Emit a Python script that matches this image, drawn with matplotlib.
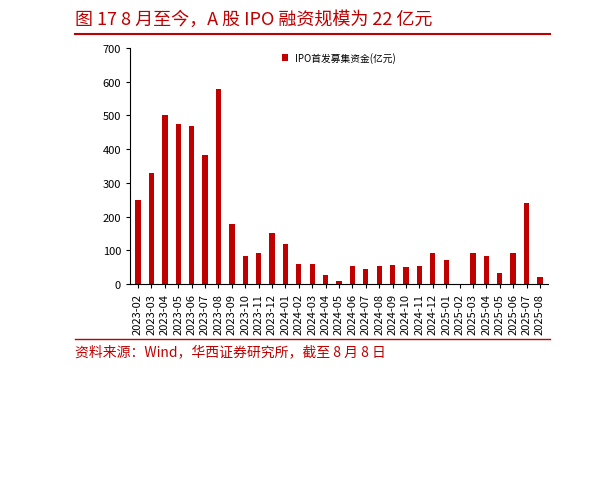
import matplotlib
matplotlib.use("Agg")
import matplotlib.pyplot as plt
plt.rcParams['font.family'] = ['Noto Sans CJK SC', 'DejaVu Sans']

months = ["2023-02","2023-03","2023-04","2023-05","2023-06","2023-07","2023-08","2023-09","2023-10","2023-11","2023-12",
          "2024-01","2024-02","2024-03","2024-04","2024-05","2024-06","2024-07","2024-08","2024-09","2024-10","2024-11","2024-12",
          "2025-01","2025-02","2025-03","2025-04","2025-05","2025-06","2025-07","2025-08"]
values = [249,330,500,475,470,383,577,179,83,93,150,
          118,58,58,26,9,52,44,54,56,49,52,93,
          71,0,91,82,34,91,240,22]

fig = plt.figure(figsize=(6.05,4.85), dpi=100)
ax = fig.add_axes([130/605, 1-285/485, 418/605, 236/485])
x = range(len(months))
ax.bar(x, values, width=0.4, color='#C00000', label='IPO首发募集资金(亿元)')
ax.set_ylim(0,700)
ax.set_yticks(range(0,701,100))
ax.set_xlim(-0.6, len(months)-0.4)
ax.set_xticks(list(x))
ax.set_xticklabels(months, rotation=90, fontsize=8)
ax.tick_params(axis='y', labelsize=8, length=3)
ax.tick_params(axis='x', length=3)
for s in ['top','right']:
    ax.spines[s].set_visible(False)
ax.legend(loc='upper center', frameon=False, fontsize=7, handlelength=0.6, bbox_to_anchor=(0.5,1.02))

fig.text(75/605, 1-20/485, '图 17 8 月至今，A 股 IPO 融资规模为 22 亿元', fontsize=13, color='#C00000', va='center')
fig.add_artist(plt.Line2D([75/605, 550/605], [1-35/485]*2, color='#C00000', lw=1.5))
fig.add_artist(plt.Line2D([75/605, 550/605], [1-340/485]*2, color='#C00000', lw=1))
fig.text(75/605, 1-352/485, '资料来源：Wind，华西证券研究所，截至 8 月 8 日', fontsize=10, color='#C00000', va='center')
fig.savefig('out.png', dpi=100)
